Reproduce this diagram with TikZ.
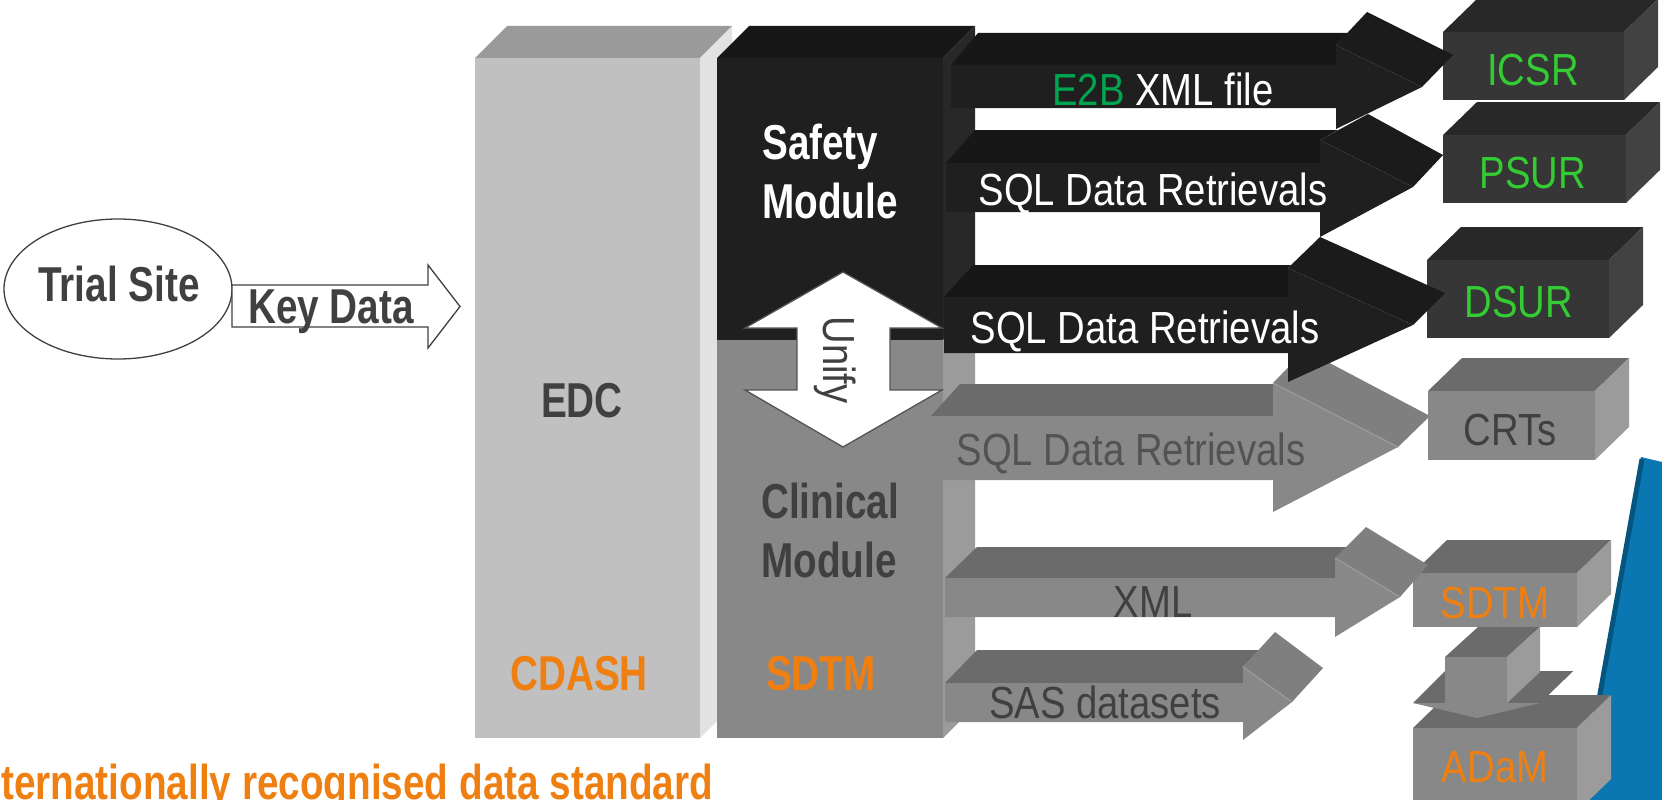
\documentclass[tikz,border=0pt]{standalone}
\usepackage{fontspec}
\setmainfont{Liberation Sans}[FakeStretch=0.85]
\newfontfamily\bnarrow{Liberation Sans}[FakeStretch=0.79]
\usetikzlibrary{shapes.geometric}
\definecolor{orng}{HTML}{F07F12}
\definecolor{gtxt}{HTML}{404040}
\definecolor{e2bg}{HTML}{00A550}
\definecolor{boxg}{HTML}{33CC33}
\definecolor{bkf}{HTML}{1F1F1F}
\definecolor{bkt}{HTML}{171717}
\definecolor{bkh}{HTML}{1B1B1B}
\definecolor{bks}{HTML}{282828}
\definecolor{dkf}{HTML}{363636}
\definecolor{dkt}{HTML}{282828}
\definecolor{dks}{HTML}{424242}
\definecolor{grf}{HTML}{888888}
\definecolor{grt}{HTML}{6B6B6B}
\definecolor{grs}{HTML}{9B9B9B}
\definecolor{grh}{HTML}{7F7F7F}
\definecolor{edf}{HTML}{C0C0C0}
\definecolor{edt}{HTML}{9A9A9A}
\definecolor{eds}{HTML}{E2E2E2}
\definecolor{bluec}{HTML}{0A77B2}
\definecolor{blued}{HTML}{05557F}
\newcommand\cubeshape[7]{%
  \fill[#6] (#1,#2) -- (#3,#2) -- (#3+34,#2-33) -- (#1+34,#2-33) -- cycle;
  \fill[#7] (#3,#2) -- (#3+34,#2-33) -- (#3+34,#4-33) -- (#3,#4) -- cycle;
  \fill[#5] (#1,#2) rectangle (#3,#4);}
\tikzset{
  bt/.style={font=\bnarrow\bfseries\fontsize{49bp}{59bp}\selectfont, inner sep=0pt, anchor=base},
  rt/.style={font=\fontsize{45bp}{54bp}\selectfont, inner sep=0pt, anchor=base},
  outl/.style={draw=gtxt, line width=1.3bp, fill=white}
}
\begin{document}
\begin{tikzpicture}[x=1bp,y=-1bp,line join=miter]
\useasboundingbox (0,0) rectangle (1662,800);
% blue shape
\fill[bluec] (1641,457) -- (1662,462) -- (1662,800) -- (1580,800) -- cycle;
\draw[blued, line width=5bp] (1642,459) -- (1581,800);
% EDC block
\fill[edt] (475,58) -- (700,58) -- (732,26) -- (507,26) -- cycle;
\fill[eds] (700,58) -- (732,26) -- (732,706) -- (700,738) -- cycle;
\fill[edf] (475,58) rectangle (700,738);
% module block
\fill[bkt] (717,58) -- (943,58) -- (975,26) -- (749,26) -- cycle;
\fill[bks] (943,58) -- (975,26) -- (975,308) -- (943,340) -- cycle;
\fill[grs] (943,340) -- (975,308) -- (975,706) -- (943,738) -- cycle;
\fill[bkf] (717,58) rectangle (943,340);
\fill[grf] (717,340) rectangle (943,738);
% unify double arrow
\draw[outl, draw=gtxt!90] (843,272) -- (942,328) -- (890,328) -- (890,390) -- (942,390) -- (843,447) -- (745,390) -- (797,390) -- (797,328) -- (745,328) -- cycle;
% boxes
\cubeshape{1413}{728}{1577}{812}{grf}{grt}{grs}
% down arrow SDTM -> ADaM
\fill[grt] (1413,703) -- (1445,703) -- (1477,671) -- (1445,671) -- cycle;
\fill[grt] (1507,703) -- (1540,703) -- (1573,671) -- (1540,671) -- cycle;
\fill[grt] (1540,703) -- (1573,671) -- (1510,686) -- (1477,718) -- cycle;
\fill[grt] (1445,657) -- (1507,657) -- (1540,627) -- (1478,627) -- cycle;
\fill[grs] (1507,657) -- (1540,627) -- (1540,672) -- (1507,703) -- cycle;
\fill[grf] (1445,657) rectangle (1507,703);
\fill[grf] (1413,703) -- (1540,703) -- (1477,718) -- cycle;
\cubeshape{1413}{573}{1577}{627}{grf}{grt}{grs}
\cubeshape{1428}{391}{1595}{460}{grf}{grt}{grs}
\cubeshape{1427}{260}{1609}{338}{dkf}{dkt}{dks}
\cubeshape{1443}{135}{1626}{203}{dkf}{dkt}{dks}
\cubeshape{1443}{32}{1624}{100}{dkf}{dkt}{dks}
% gray arrow SAS
\fill[grt] (945,683) -- (1243,683) -- (1243,667) -- (1259,650) -- (977,650) -- cycle;
\fill[grh] (1243,667) -- (1275,632) -- (1323,668) -- (1292,702) -- cycle;
\fill[grf] (945,683) -- (1243,683) -- (1243,667) -- (1292,702) -- (1243,740) -- (1243,722) -- (945,722) -- cycle;
\draw[grs, line width=1.2bp] (1243,667) -- (1292,702);
% gray arrow XML
\fill[grt] (945,578) -- (1335,578) -- (1346,547) -- (977,547) -- cycle;
\fill[grh] (1335,558) -- (1366,527) -- (1428,565) -- (1400,597) -- cycle;
\fill[grf] (945,578) -- (1335,578) -- (1335,558) -- (1400,597) -- (1335,637) -- (1335,617) -- (945,617) -- cycle;
\draw[grs, line width=1.2bp] (1335,558) -- (1400,597);
% gray arrow SQL -> CRTs
\fill[grt] (931,416) -- (1273,416) -- (1273,384) -- (960,384) -- cycle;
\fill[grh] (1273,383) -- (1305,350) -- (1430,416) -- (1398,447) -- cycle;
\fill[grf] (931,416) -- (1273,416) -- (1273,383) -- (1398,447) -- (1273,512) -- (1273,480) -- (931,480) -- cycle;
\draw[grs, line width=1.2bp] (1273,383) -- (1398,447);
% black arrow SQL -> DSUR
\fill[bkt] (944,297) -- (1288,297) -- (1288,268) -- (1291,265) -- (973,265) -- cycle;
\fill[bkh] (1288,268) -- (1320,237) -- (1445,293) -- (1413,325) -- cycle;
\fill[bkf] (944,297) -- (1288,297) -- (1288,268) -- (1413,325) -- (1288,382) -- (1288,353) -- (944,353) -- cycle;
% black arrow SQL -> PSUR
\fill[bkt] (946,163) -- (1320,163) -- (1320,140) -- (1338,130) -- (975,130) -- cycle;
\fill[bkh] (1320,140) -- (1368,114) -- (1443,155) -- (1413,187) -- cycle;
\fill[bkf] (946,163) -- (1320,163) -- (1320,140) -- (1413,187) -- (1320,237) -- (1320,212) -- (946,212) -- cycle;
% black arrow E2B -> ICSR
\fill[bkt] (951,65) -- (1336,65) -- (1336,45) -- (1348,33) -- (978,33) -- cycle;
\fill[bkh] (1336,45) -- (1367,12) -- (1453,55) -- (1422,87) -- cycle;
\fill[bkf] (951,65) -- (1336,65) -- (1336,45) -- (1422,87) -- (1336,129) -- (1336,108) -- (951,108) -- cycle;
% trial site and key data arrow
\node[outl, ellipse, minimum width=228bp, minimum height=140bp, inner sep=0pt] (site) at (118,289) {};
\draw[outl] (232,285) -- (428,285) -- (428,265) -- (460,306.5) -- (428,348) -- (428,327) -- (232,327) -- cycle;
% texts
\node[bt, text=gtxt] (tsite) at (119,301) {Trial Site};
\node[bt, text=gtxt] (kdata) at (331,323) {Key Data};
\node[bt, text=gtxt] (edc) at (582,417) {EDC};
\node[bt, text=white, anchor=base west] (saf1) at (762,159) {Safety};
\node[bt, text=white, anchor=base west] (saf2) at (762,218) {Module};
\node[bt, text=gtxt, anchor=base west] (cli1) at (761,518) {Clinical};
\node[bt, text=gtxt, anchor=base west] (cli2) at (761,577) {Module};
\node[bt, text=orng] (cdash) at (579,690) {CDASH};
\node[bt, text=orng] (sdtm1) at (821,690) {SDTM};
\node[bt, text=orng, anchor=base west] (intl) at (1,799) {ternationally recognised data standard};
\node[rt, text=white] (e2b) at (1163,105) {\textcolor{e2bg}{E2B} XML file};
\node[rt, text=white] (sql1) at (1153,205) {SQL Data Retrievals};
\node[rt, text=white] (sql2) at (1145,343) {SQL Data Retrievals};
\node[rt, text=gtxt!90] (sql3) at (1131,465) {SQL Data Retrievals};
\node[rt, text=gtxt] (xml) at (1153,617) {XML};
\node[rt, text=gtxt] (sas) at (1105,718) {SAS datasets};
\node[rt, text=boxg] (icsr) at (1533,85) {ICSR};
\node[rt, text=boxg] (psur) at (1533,188) {PSUR};
\node[rt, text=boxg] (dsur) at (1519,317) {DSUR};
\node[rt, text=gtxt] (crts) at (1510,445) {CRTs};
\node[rt, text=orng] (sdtm2) at (1495,618) {SDTM};
\node[rt, text=orng] (adam) at (1495,782) {ADaM};
\node[rt, text=gtxt, rotate=-90] (unify) at (823,360) {Unify};
\end{tikzpicture}
\end{document}
